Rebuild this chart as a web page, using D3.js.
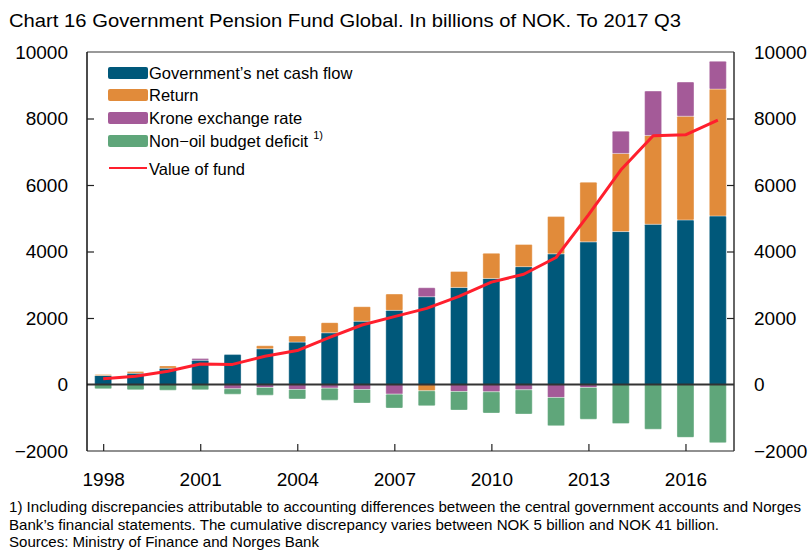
<!DOCTYPE html>
<html>
<head>
<meta charset="utf-8">
<script src="https://cdn.jsdelivr.net/npm/d3@7"></script>
<style>
  body { margin: 0; background: #fff; }
  svg { font-family: "Liberation Sans", Arial, Helvetica, sans-serif; }
</style>
</head>
<body>
<svg id="chart"></svg>
<script>
// cumulative contributions, billions of NOK
var years = [1998, 1999, 2000, 2001, 2002, 2003, 2004, 2005, 2006, 2007,
             2008, 2009, 2010, 2011, 2012, 2013, 2014, 2015, 2016, 2017];
var cashFlow = [270, 340, 490, 730, 900, 1075, 1275, 1555, 1905, 2230,
                2640, 2920, 3190, 3545, 3930, 4290, 4600, 4820, 4950, 5070];
var returns = [30, 50, 70, 0, 0, 90, 185, 305, 435, 490,
               -190, 480, 755, 665, 1120, 1795, 2350, 2670, 3120, 3815];
var krone = [0, 0, 0, 50, -130, -90, -150, -110, -150, -290,
             270, -210, -220, -160, -390, -90, 670, 1335, 1025, 835];
var deficit = [-130, -160, -170, -160, -160, -230, -285, -360, -410, -420,
               -450, -560, -640, -730, -850, -955, -1175, -1345, -1590, -1750];
var fundValue = [170, 250, 400, 615, 605, 850, 1020, 1420, 1790, 2040,
                 2290, 2650, 3080, 3315, 3820, 5100, 6450, 7480, 7510, 7950];
var yTicks = [-2000, 0, 2000, 4000, 6000, 8000, 10000];
var xTicks = [1998, 2001, 2004, 2007, 2010, 2013, 2016];

var seriesNames = ["Government\u2019s net cash flow", "Return", "Krone exchange rate", "Non\u2212oil budget deficit"];
var seriesColors = ["#00587a", "#e18b3a", "#a45a98", "#5fa67a"];
var lineColor = "#ff1f2d";

var width = 811, height = 550;
var svg = d3.select("#chart").attr("width", width).attr("height", height);

var x = d3.scaleLinear().domain([1997.5, 2017.5]).range([87, 734]);
var y = d3.scaleLinear().domain([-2000, 10000]).range([451, 52]);
var barW = 17;

var rows = years.map(function (yr, i) {
  return { year: yr, s0: cashFlow[i], s1: returns[i], s2: krone[i], s3: deficit[i] };
});
var stack = d3.stack().keys(["s0", "s1", "s2", "s3"]).offset(d3.stackOffsetDiverging);
var layers = stack(rows);

// title
svg.append("text")
  .attr("x", 9).attr("y", 27)
  .attr("font-size", 19)
  .attr("textLength", 672)
  .attr("lengthAdjust", "spacingAndGlyphs")
  .text("Chart 16 Government Pension Fund Global. In billions of NOK. To 2017 Q3");

// bars
var g = svg.append("g");
layers.forEach(function (layer, k) {
  g.selectAll(".b" + k)
    .data(layer)
    .enter()
    .append("rect")
    .attr("x", function (d) { return x(d.data.year) - barW / 2; })
    .attr("y", function (d) { return y(d[1]); })
    .attr("width", barW)
    .attr("height", function (d) { return Math.max(0, y(d[0]) - y(d[1])); })
    .attr("rx", 1)
    .attr("fill", seriesColors[k])
    .attr("stroke", "#fff")
    .attr("stroke-opacity", 0.35)
    .attr("stroke-width", 1);
});

// zero line
svg.append("line")
  .attr("x1", x.range()[0]).attr("x2", x.range()[1])
  .attr("y1", y(0)).attr("y2", y(0))
  .attr("stroke", "#333").attr("stroke-width", 2);

// value of fund
var line = d3.line()
  .x(function (d, i) { return x(years[i]); })
  .y(function (d) { return y(d); });
svg.append("path")
  .datum(fundValue)
  .attr("d", line)
  .attr("fill", "none")
  .attr("stroke", lineColor)
  .attr("stroke-width", 3)
  .attr("stroke-linejoin", "round");

// frame
svg.append("line").attr("x1", 87).attr("x2", 734).attr("y1", 52).attr("y2", 52)
  .attr("stroke", "#777").attr("stroke-width", 1.5);
svg.append("line").attr("x1", 87).attr("x2", 734).attr("y1", 451).attr("y2", 451)
  .attr("stroke", "#222").attr("stroke-width", 1.2);
svg.append("line").attr("x1", 87).attr("x2", 87).attr("y1", 52).attr("y2", 451)
  .attr("stroke", "#111").attr("stroke-width", 1.5);
svg.append("line").attr("x1", 734).attr("x2", 734).attr("y1", 52).attr("y2", 451)
  .attr("stroke", "#333").attr("stroke-width", 1.5);

// axes
var fmt = function (d) { return d < 0 ? "\u2212" + Math.abs(d) : String(d); };
var left = svg.append("g").attr("transform", "translate(87,0)")
  .call(d3.axisLeft(y).tickValues(yTicks).tickFormat(fmt).tickSize(-7).tickPadding(19));
var right = svg.append("g").attr("transform", "translate(734,0)")
  .call(d3.axisRight(y).tickValues(yTicks).tickFormat(fmt).tickSize(-7).tickPadding(20));
var bottom = svg.append("g").attr("transform", "translate(0,451)")
  .call(d3.axisBottom(x).tickValues(xTicks).tickFormat(d3.format("d")).tickSize(-7).tickPadding(22));
[left, right, bottom].forEach(function (a) {
  a.select(".domain").remove();
  a.selectAll("text").attr("font-size", 19).attr("fill", "#000")
    .attr("font-family", "'Liberation Sans', Arial, sans-serif");
  a.selectAll(".tick line").attr("stroke", "#222").attr("stroke-width", 1.2);
});
left.selectAll(".tick").filter(function (d) { return d === 0 || d === 10000 || d === -2000; })
  .select("line").remove();
right.selectAll(".tick").filter(function (d) { return d === 0 || d === 10000 || d === -2000; })
  .select("line").remove();

// legend
var legend = svg.append("g");
var legendY = [73, 95, 118, 141];
var lastLabel;
seriesNames.forEach(function (name, i) {
  legend.append("rect")
    .attr("x", 108).attr("y", legendY[i] - 6)
    .attr("width", 40).attr("height", 12).attr("rx", 2)
    .attr("fill", seriesColors[i]);
  lastLabel = legend.append("text")
    .attr("x", 149).attr("y", legendY[i] + 6)
    .attr("font-size", 16.5)
    .text(name);
});
legend.append("text")
  .attr("x", 149 + lastLabel.node().getComputedTextLength() + 5).attr("y", 139)
  .attr("font-size", 11)
  .text("1)");
legend.append("line")
  .attr("x1", 109).attr("x2", 147).attr("y1", 168).attr("y2", 168)
  .attr("stroke", lineColor).attr("stroke-width", 2);
legend.append("text")
  .attr("x", 149).attr("y", 175)
  .attr("font-size", 16.5)
  .text("Value of fund");

// footnotes
var notes = [
  { t: "1) Including discrepancies attributable to accounting differences between the central government accounts and Norges", y: 512, w: 792 },
  { t: "Bank\u2019s financial statements. The cumulative discrepancy varies between NOK 5 billion and NOK 41 billion.", y: 530, w: 710 },
  { t: "Sources: Ministry of Finance and Norges Bank", y: 547, w: 310 }
];
notes.forEach(function (n) {
  svg.append("text")
    .attr("x", 9).attr("y", n.y)
    .attr("font-size", 14.5)
    .attr("textLength", n.w)
    .attr("lengthAdjust", "spacingAndGlyphs")
    .text(n.t);
});
</script>
</body>
</html>
